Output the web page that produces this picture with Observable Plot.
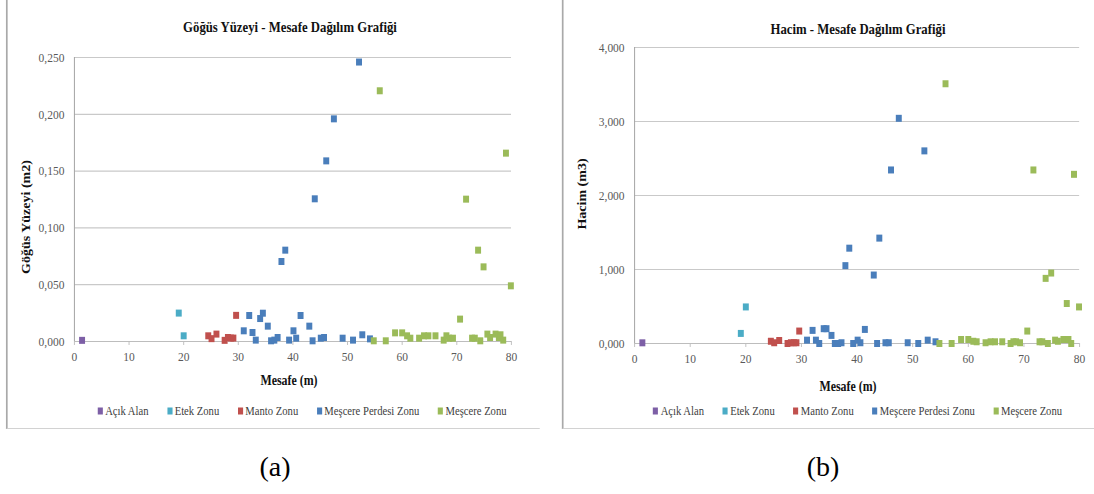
<!DOCTYPE html>
<html><head><meta charset="utf-8">
<script src="https://cdn.jsdelivr.net/npm/d3@7"></script>
<script src="https://cdn.jsdelivr.net/npm/@observablehq/plot@0.6"></script>
<style>
body{margin:0;background:#fff;}
#page{position:relative;width:1094px;height:494px;overflow:hidden;font-family:"Liberation Serif","Times New Roman",serif;background:#fff;}
#squeeze{position:absolute;left:0;top:0;width:1290px;height:440px;transform:scaleX(0.85);transform-origin:0 0;}
.abs{position:absolute;white-space:nowrap;}
.ctr{transform:translate(-50%,-50%);}
.title{font-weight:bold;font-size:15px;color:#111;}
.axt{font-weight:bold;font-size:14px;color:#111;}
.rot{transform:translate(-50%,-50%) rotate(-90deg);}
.legend{display:flex;align-items:center;font-size:12.5px;color:#404040;transform:translateY(-50%);}
.legend .item{display:flex;align-items:center;}
.legend .sw{display:inline-block;width:6px;height:7px;margin-right:3px;}
.cap{font-size:28px;color:#000;}
.plot{position:absolute;top:0;}
</style></head><body>
<div id="page"><div id="squeeze"></div></div>
<script>
// ---- data ----
const zones = ["Açık Alan", "Etek Zonu", "Manto Zonu", "Meşcere Perdesi Zonu", "Meşcere Zonu"];
const zoneColors = ["#7d5fa6", "#4bacc6", "#c0504d", "#4a7ebb", "#9bbb59"];

const acikX = [1.4];
const acikGogus = [0.001];
const acikHacim = [0.009];

const etekX = [19.1, 20.0];
const etekGogus = [0.025, 0.005];
const etekHacim = [0.136, 0.494];

const mantoX = [24.5, 25.1, 26.0, 27.5, 28.1, 28.65, 29.1, 29.6];
const mantoGogus = [0.005, 0.0025, 0.0065, 0.001, 0.0035, 0.003, 0.003, 0.023];
const mantoHacim = [0.03, 0.01, 0.04, 0, 0.01, 0.01, 0.01, 0.168];

const perdesiX = [31.0, 32.0, 32.6, 33.2, 34.0, 34.5, 35.4, 36.0, 36.6, 37.2, 37.9, 38.6, 39.3, 40.1, 40.6, 41.4, 43.0, 43.6, 44.0, 45.1, 45.7, 46.1, 47.5, 49.1, 51.0, 52.1, 52.7, 54.1];
const perdesiGogus = [0.0094, 0.0229, 0.0079, 0.0012, 0.0202, 0.0249, 0.0135, 0.0006, 0.0012, 0.0035, 0.0704, 0.0804, 0.0012, 0.0094, 0.0029, 0.0229, 0.0135, 0.0006, 0.1256, 0.0029, 0.0035, 0.159, 0.196, 0.0029, 0.0012, 0.246, 0.0059, 0.0023];
const perdesiHacim = [0.045, 0.177, 0.045, 0, 0.2, 0.2, 0.109, 0, 0, 0.01, 1.052, 1.288, 0, 0.045, 0.01, 0.19, 0.925, 0, 1.424, 0.01, 0.01, 2.345, 3.043, 0.01, 0, 2.603, 0.045, 0.023];

const mescereX = [54.8, 55.9, 57.0, 58.7, 60.0, 60.9, 61.5, 63.1, 64.0, 64.8, 66.1, 67.6, 68.1, 68.6, 69.3, 70.6, 71.7, 72.8, 73.3, 73.9, 74.3, 74.9, 75.6, 76.1, 77.1, 77.7, 78.0, 78.5, 79.0, 79.9];
const mescereGogus = [0.0006, 0.2207, 0.0006, 0.0076, 0.0076, 0.005, 0.0029, 0.0029, 0.005, 0.005, 0.005, 0.0012, 0.005, 0.0029, 0.0029, 0.0197, 0.1253, 0.0029, 0.0029, 0.0804, 0.0006, 0.0657, 0.0065, 0.0035, 0.0065, 0.0035, 0.0059, 0.0012, 0.1658, 0.049];
const mescereHacim = [0, 3.51, 0, 0.054, 0.054, 0.03, 0.023, 0.01, 0.023, 0.023, 0.023, 0, 0.023, 0.023, 0.01, 0.168, 2.345, 0.023, 0.023, 0.88, 0, 0.952, 0.045, 0.03, 0.054, 0.54, 0.054, 0, 2.286, 0.494];

const xTicks = [0, 10, 20, 30, 40, 50, 60, 70, 80];
const gogusTicks = [0, 0.05, 0.10, 0.15, 0.20, 0.25];
const hacimTicks = [0, 1, 2, 3, 4];

const titleA = "Göğüs Yüzeyi - Mesafe Dağılım Grafiği";
const titleB = "Hacim - Mesafe  Dağılım Grafiği";
const yTitleA = "Göğüs Yüzeyi (m2)";
const yTitleB = "Hacim (m3)";
const xTitle = "Mesafe (m)";

// ---- build tables ----
const groups = [
  [acikX, acikGogus, acikHacim],
  [etekX, etekGogus, etekHacim],
  [mantoX, mantoGogus, mantoHacim],
  [perdesiX, perdesiGogus, perdesiHacim],
  [mescereX, mescereGogus, mescereHacim]
];
const rows = [];
groups.forEach(([xs, gs, hs], i) => xs.forEach((x, j) => rows.push({zone: zones[i], mesafe: x, gogus: gs[j], hacim: hs[j]})));

// ---- layout helpers ----
const S = 0.85;                 // horizontal compression of the reference
const N = v => v / S;           // visual x -> natural x
const sq = document.getElementById("squeeze");
const fmt = d => d3.format(".3f")(d).replace(".", ",");

function addDiv(cls, text, x, y, extra = {}) {
  const d = document.createElement("div");
  d.className = "abs " + cls;
  d.textContent = text;
  d.style.left = N(x) + "px";
  d.style.top = y + "px";
  Object.assign(d.style, extra);
  sq.appendChild(d);
  return d;
}

function panel(x0, x1) {
  const d = document.createElement("div");
  d.className = "abs";
  d.style.left = N(x0) + "px";
  d.style.top = "-2px";
  d.style.width = N(x1 - x0) + "px";
  d.style.height = "431px";
  d.style.borderLeft = "2px solid #a9a9a9";
  d.style.borderBottom = "1px solid #d2d2d2";
  d.style.boxSizing = "border-box";
  sq.appendChild(d);
}

function chart({left, width, mL, mR, mT, mB, yKey, yDomain, yTicks}) {
  const p = Plot.plot({
    width: N(width), height: 430,
    marginLeft: N(mL), marginRight: N(mR), marginTop: mT, marginBottom: mB,
    x: {domain: [0, 80]},
    y: {domain: yDomain},
    color: {domain: zones, range: zoneColors},
    style: {fontFamily: '"Liberation Serif","Times New Roman",serif', fontSize: "13.5px", background: "transparent", overflow: "visible"},
    marks: [
      Plot.gridY(yTicks, {stroke: "#c9c9c9", strokeOpacity: 1, strokeWidth: 1.2}),
      Plot.ruleX([0], {stroke: "#a6a6a6", strokeWidth: 1.2}),
      Plot.ruleY([0], {stroke: "#bdbdbd", strokeWidth: 1.2}),
      Plot.axisX(xTicks, {tickSize: 4, tickPadding: 6, stroke: "#bdbdbd", fill: "#595959", label: null, tickFormat: d => String(d)}),
      Plot.axisY(yTicks, {tickSize: 0, tickPadding: N(10), fill: "#595959", label: null, tickFormat: fmt}),
      Plot.dot(rows, {x: "mesafe", y: yKey, fill: "zone", symbol: "square", r: 3.95, stroke: null})
    ]
  });
  p.classList.add("plot");
  p.style.left = N(left) + "px";
  sq.appendChild(p);
}

function legend(x, y) {
  const d = document.createElement("div");
  d.className = "abs legend";
  d.style.left = N(x) + "px";
  d.style.top = y + "px";
  d.style.gap = N(18.5) + "px";
  zones.forEach((z, i) => {
    const it = document.createElement("span");
    it.className = "item";
    const sw = document.createElement("span");
    sw.className = "sw";
    sw.style.background = zoneColors[i];
    it.appendChild(sw);
    it.appendChild(document.createTextNode(z));
    d.appendChild(it);
  });
  sq.appendChild(d);
}

// ---- panel (a) ----
panel(6, 540);
chart({left: 0, width: 540, mL: 74, mR: 29, mT: 57, mB: 89, yKey: "gogus", yDomain: [0, 0.25], yTicks: gogusTicks});
addDiv("title ctr", titleA, 290, 27);
addDiv("axt rot", yTitleA, 26, 217);
addDiv("axt ctr", xTitle, 289, 381);
legend(97.5, 410.5);

// ---- panel (b) ----
panel(562, 1100);
chart({left: 560, width: 534, mL: 74, mR: 15, mT: 47, mB: 87, yKey: "hacim", yDomain: [0, 4], yTicks: hacimTicks});
addDiv("title ctr", titleB, 858, 29);
addDiv("axt rot", yTitleB, 582, 194);
addDiv("axt ctr", xTitle, 848, 387);
legend(653, 410.5);

// ---- captions ----
const page = document.getElementById("page");
[["(a)", 275], ["(b)", 823]].forEach(([t, x]) => {
  const c = document.createElement("div");
  c.className = "abs cap";
  c.textContent = t;
  c.style.left = x + "px";
  c.style.top = "467px";
  c.style.transform = "translate(-50%,-50%)";
  page.appendChild(c);
});
</script>
</body></html>
